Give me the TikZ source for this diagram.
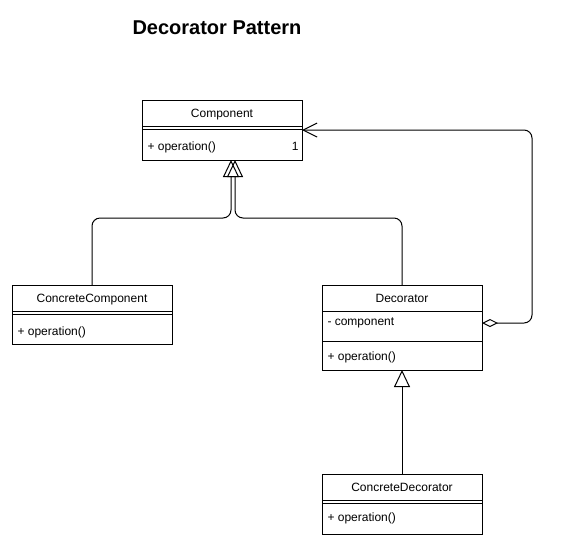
\documentclass[tikz,border=0pt]{standalone}
\usepackage{fontspec}
\setmainfont{Liberation Sans}
\usetikzlibrary{arrows.meta, positioning}

\tikzset{
	classname/.style={draw, minimum width=160pt, minimum height=26pt, inner sep=0pt, outer sep=0pt, text height=9pt, text depth=1pt, font=\fontsize{12}{14}\selectfont},
	classpart/.style={draw, minimum width=160pt, inner sep=0pt, outer sep=0pt, anchor=north},
	member/.style={anchor=west, inner sep=0pt, font=\fontsize{12}{14}\selectfont},
	generalize/.style={-{Triangle[open, length=17pt, width=16pt]}, rounded corners=8pt},
	aggregate/.style={{Diamond[open, length=16pt, width=8pt]}-{Straight Barb[length=14pt, width=14pt]}, rounded corners=8pt},
}

\begin{document}
\begin{tikzpicture}[x=1pt, y=-1pt, line width=1pt]
		\useasboundingbox (0,0) rectangle (562,550);
		\node[font=\fontsize{20}{24}\selectfont\bfseries] (title) at (217,28) {Decorator Pattern};

		% Component
		\node[classname] (comp) at (222,113) {Component};
		\node[classpart, minimum height=34pt] (compbody) at (comp.south) {};
		\draw ([yshift=-3.5pt]compbody.north west) -- ([yshift=-3.5pt]compbody.north east);
		\node[member] (compop) at ([xshift=5pt, yshift=-21pt]compbody.north west) {+ operation()};
		\node[member, anchor=east] (mult) at (299,146) {1};

		% ConcreteComponent
		\node[classname] (concomp) at (92,298) {ConcreteComponent};
		\node[classpart, minimum height=33pt] (concompbody) at (concomp.south) {};
		\draw ([yshift=-3.5pt]concompbody.north west) -- ([yshift=-3.5pt]concompbody.north east);
		\node[member] (concompop) at ([xshift=5pt, yshift=-21pt]concompbody.north west) {+ operation()};

		% Decorator
		\node[classname] (deco) at (402,298) {Decorator};
		\node[classpart, minimum height=30pt] (decoattr) at (deco.south) {};
		\node[member] (decofield) at ([xshift=5pt, yshift=-12pt]decoattr.north west) {- component};
		\node[classpart, minimum height=29pt] (decometh) at (decoattr.south) {};
		\node[member] (decoop) at ([xshift=5pt, yshift=-16pt]decometh.north west) {+ operation()};

		% ConcreteDecorator
		\node[classname] (condeco) at (402,487) {ConcreteDecorator};
		\node[classpart, minimum height=34pt] (condecobody) at (condeco.south) {};
		\draw ([yshift=-3.5pt]condecobody.north west) -- ([yshift=-3.5pt]condecobody.north east);
		\node[member] (condecoop) at ([xshift=5pt, yshift=-18pt]condecobody.north west) {+ operation()};

		% connectors
		\coordinate (jointL) at (231,218);
		\coordinate (jointR) at (235,218);
		\coordinate (loop) at (532,130);
		\draw[generalize] (concomp.north) |- (jointL) -- (jointL |- compbody.south);
		\draw[generalize] (deco.north) |- (jointR) -- (jointR |- compbody.south);
		\draw[generalize] (condeco.north) -- (decometh.south);
		\draw[aggregate] ([yshift=3pt]decoattr.east) -| (loop) -- (loop -| compbody.east);
	\end{tikzpicture}
\end{document}
